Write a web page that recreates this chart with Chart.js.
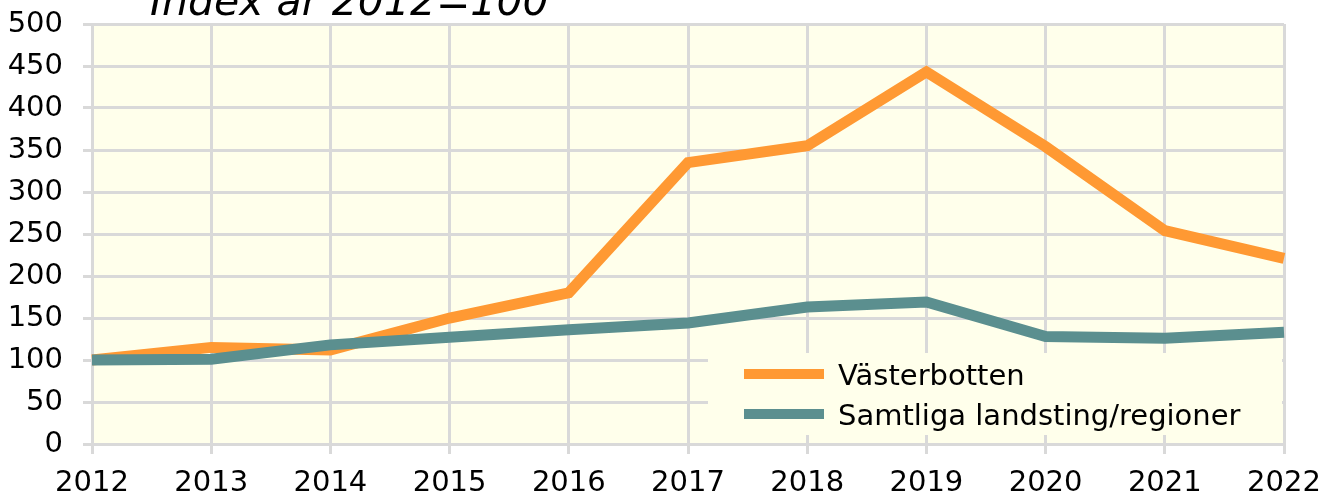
<!DOCTYPE html>
<html>
<head>
<meta charset="utf-8">
<script src="https://cdn.jsdelivr.net/npm/chart.js@4/dist/chart.umd.min.js"></script>
<style>
    html, body { margin: 0; padding: 0; background: #ffffff; overflow: hidden; }
    #wrap { position: relative; width: 1334px; height: 501px; }
    #title {
        position: absolute; left: 150px; top: -19px;
        font-family: 'DejaVu Sans', sans-serif; font-style: italic;
        font-size: 41px; line-height: 40px; color: #000; white-space: nowrap;
    }
</style>
</head>
<body>
<div id="wrap">
    <canvas id="line_index" width="1334" height="501"></canvas>
    <div id="title">Index år 2012=100</div>
</div>
<script>
/* data */
const years          = ['2012','2013','2014','2015','2016','2017','2018','2019','2020','2021','2022'];
const vasterbotten   = [100, 115, 112, 150, 180, 335, 355, 443, 354, 254, 221];
const samtliga       = [100, 101, 118, 127, 136, 144, 163, 169, 128, 126, 133];
const seriesLabels   = ['Västerbotten', 'Samtliga landsting/regioner'];
const seriesColors   = ['#ff9933', '#5b8f8f'];

const FONT = "'DejaVu Sans', sans-serif";

/* plot area fill */
const plotBg = {
    id: 'plotBg',
    beforeDraw: (chart)=>{
        let a = chart.chartArea, ctx = chart.ctx;
        ctx.save();
        ctx.fillStyle = '#ffffeb';
        ctx.fillRect(a.left, a.top, a.right - a.left, a.bottom - a.top);
        ctx.restore();
    }
};

/* legend box inside the plot, lower right */
const boxLegend = {
    id: 'boxLegend',
    afterDatasetsDraw: (chart)=>{
        let a = chart.chartArea, ctx = chart.ctx;
        let left = 708, top = 353, bottom = 435;
        ctx.save();
        ctx.fillStyle = '#ffffeb';
        ctx.fillRect(left, top, a.right - left - 2, bottom - top);
        ctx.font = '29px ' + FONT;
        ctx.textBaseline = 'alphabetic';
        ctx.textAlign = 'left';
        chart.data.datasets.forEach((ds, i)=>{
            let y = 374 + i * 40;
            ctx.strokeStyle = ds.borderColor;
            ctx.lineWidth = 10;
            ctx.beginPath();
            ctx.moveTo(744, y);
            ctx.lineTo(824, y);
            ctx.stroke();
            ctx.fillStyle = '#000';
            ctx.fillText(ds.label, 838, y + 11);
        });
        ctx.restore();
    }
};

let ctx_line = document.querySelector('#line_index').getContext('2d');
let chart_line = new Chart(ctx_line, {
    type: 'line',
    data: {
        labels: years,
        datasets: [
            { label: seriesLabels[0], data: vasterbotten, borderColor: seriesColors[0], backgroundColor: seriesColors[0], order: 2 },
            { label: seriesLabels[1], data: samtliga,     borderColor: seriesColors[1], backgroundColor: seriesColors[1], order: 1 }
        ]
    },
    options: {
        responsive: false,
        animation: false,
        layout: { padding: { left: 0, right: 50, top: 24, bottom: 0 } },
        elements: {
            line:  { borderWidth: 11, tension: 0, borderJoinStyle: 'miter', borderCapStyle: 'butt' },
            point: { radius: 0, hoverRadius: 0 }
        },
        plugins: {
            legend:  { display: false },
            tooltip: { enabled: false },
            title:   { display: false }
        },
        scales: {
            x: {
                offset: false,
                grid:   { color: '#d9d9d9', lineWidth: 3, tickLength: 10, tickColor: '#d9d9d9' },
                border: { color: '#d9d9d9', width: 3 },
                ticks:  { color: '#000', font: { family: FONT, size: 29 }, padding: 12, maxRotation: 0, autoSkip: false },
                afterFit: (scale)=>{ scale.height = 57; scale.paddingTop = 0; scale.paddingBottom = 0; }
            },
            y: {
                min: 0, max: 500,
                grid:   { color: '#d9d9d9', lineWidth: 3, tickLength: 9, tickColor: '#d9d9d9' },
                border: { color: '#d9d9d9', width: 3 },
                ticks:  { color: '#000', font: { family: FONT, size: 29 }, padding: 20, stepSize: 50 },
                afterFit: (scale)=>{ scale.width = 92; scale.paddingTop = 0; scale.paddingBottom = 0; }
            }
        }
    },
    plugins: [plotBg, boxLegend]
});
</script>
</body>
</html>
